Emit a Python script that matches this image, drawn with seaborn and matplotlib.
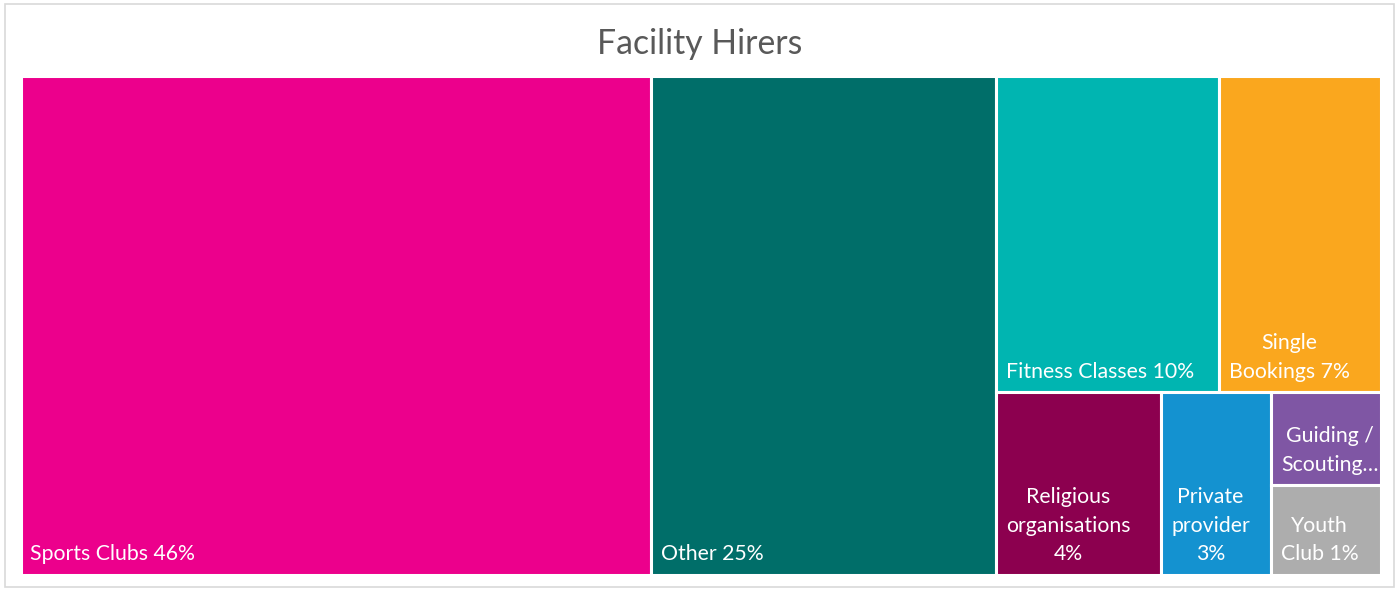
import matplotlib.pyplot as plt
import matplotlib.patches as patches
import seaborn as sns

# Facility hirers share (%), biggest first as in the treemap
categories = ["Sports Clubs", "Other", "Fitness Classes", "Single Bookings",
              "Religious organisations", "Private provider", "Guiding / Scouting", "Youth Club"]
values = [46.3, 25.3, 10.4, 7.5, 4.45, 2.95, 1.5, 1.45]
# labels as they are wrapped in the boxes
box_labels = ["Sports Clubs 46%", "Other 25%", "Fitness Classes 10%", "Single\nBookings 7%",
              "Religious\norganisations\n4%", "Private\nprovider\n3%", "Guiding /\nScouting\u2026",
              "Youth\nClub 1%"]
colors = ["#EC008C", "#006E69", "#00B5B1", "#FAA71E",
          "#8C004F", "#1492D0", "#7F56A4", "#ADADAD"]

sns.set_theme(style="white")
plt.rcParams["font.family"] = ["Lato", "DejaVu Sans"]


def worst(row, w):
    s = sum(row)
    return max(max(w * w * r / (s * s), (s * s) / (w * w * r)) for r in row)


def layout_row(row, x, y, dx, dy):
    s = sum(row)
    out = []
    if dx >= dy:
        # column along the left side
        cw = s / dy
        yy = y + dy
        for r in row:
            h = r / cw
            yy -= h
            out.append((x, yy, cw, h))
        return out, (x + cw, y, dx - cw, dy)
    rh = s / dx
    xx = x
    for r in row:
        w = r / rh
        out.append((xx, y + dy - rh, w, rh))
        xx += w
    return out, (x, y, dx, dy - rh)


def squarify(vals, x, y, dx, dy):
    total = sum(vals)
    areas = [v * dx * dy / total for v in vals]
    rects = []
    row = []
    rect = (x, y, dx, dy)
    i = 0
    while i < len(areas):
        side = min(rect[2], rect[3])
        a = areas[i]
        if not row or worst(row + [a], side) <= worst(row, side):
            row.append(a)
            i += 1
        else:
            out, rect = layout_row(row, *rect)
            rects += out
            row = []
    if row:
        out, rect = layout_row(row, *rect)
        rects += out
    return rects


W, H = 1399, 590
fig = plt.figure(figsize=(W / 100, H / 100), dpi=100)

# chart border
fig.patches.append(patches.Rectangle((5 / W, 3 / H), 1389 / W, 583 / H, transform=fig.transFigure,
                                     fill=False, edgecolor="#D9D9D9", linewidth=1.2))

x0, x1 = 20.5, 1380.5
y0, y1 = 75.5, 574.5
aw, ah = x1 - x0, y1 - y0
ax = fig.add_axes([x0 / W, 1 - y1 / H, aw / W, ah / H])
ax.set_xlim(0, aw)
ax.set_ylim(0, ah)
ax.axis("off")

rects = squarify(values, 0, 0, aw, ah)
for (rx, ry, rw, rh), lab, col in zip(rects, box_labels, colors):
    ax.add_patch(patches.Rectangle((rx, ry), rw, rh, facecolor=col, edgecolor="white", linewidth=2.2))
    ax.text(rx + 10, ry + 14, lab, color="white", fontsize=15.3, ha="left", va="baseline",
            multialignment="center", linespacing=1.55)

fig.text(0.5, 1 - 54 / H, "Facility Hirers", ha="center", va="baseline", fontsize=24.3, color="#595959")

plt.savefig("out.png", dpi=100)
